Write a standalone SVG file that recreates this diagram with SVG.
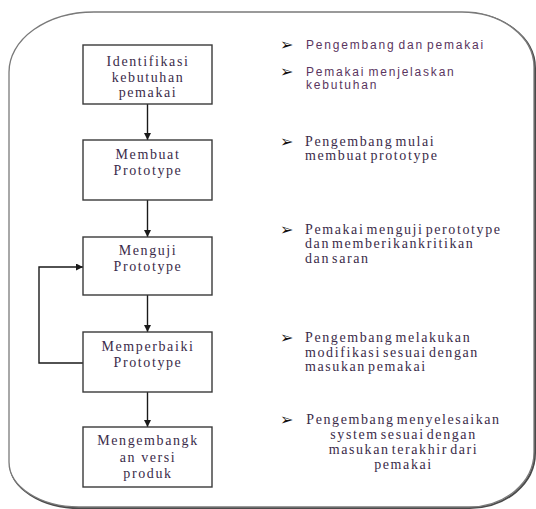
<svg xmlns="http://www.w3.org/2000/svg" width="536" height="509" viewBox="0 0 536 509">
<style>
.box{fill:#fff;stroke:#3a3a3a;stroke-width:1.4}
.bt{font-family:"Liberation Serif","DejaVu Serif",serif;font-size:14px;letter-spacing:1.6px;fill:#3b2c4a;text-anchor:middle}
.st{font-family:"Liberation Serif","DejaVu Serif",serif;font-size:14px;letter-spacing:1.6px;word-spacing:-3px;fill:#3b2c4a}
.ss{font-family:"Liberation Sans","DejaVu Sans",sans-serif;font-size:12px;letter-spacing:1.8px;word-spacing:-2px;fill:#5a3560}
.bul{font-family:"DejaVu Sans",sans-serif;font-size:16px;font-weight:bold;fill:#111}
.con{fill:none;stroke:#1a1a1a;stroke-width:1.4}
</style>
<defs>
<marker id="ah" viewBox="0 0 10 10" refX="10" refY="5" markerWidth="7" markerHeight="7" markerUnits="userSpaceOnUse" orient="auto">
<path d="M0 0 L10 5 L0 10 Z" fill="#1a1a1a"/>
</marker>
</defs>
<g id="frame">
<path d="M94 12 H462 A72 55 0 0 1 534 67 V452 A65 55 0 0 1 469 507 H79 A70 45 0 0 1 9 462 V72 A85 60 0 0 1 94 12 Z" fill="none" stroke="#4a4a4a" stroke-width="2" transform="translate(1 1)"/>
<path d="M94 12 H462 A72 55 0 0 1 534 67 V452 A65 55 0 0 1 469 507 H79 A70 45 0 0 1 9 462 V72 A85 60 0 0 1 94 12 Z" fill="#fff" stroke="#7a7a7a" stroke-width="1.3"/>
</g>
<g id="connectors">
<line class="con" x1="147.5" y1="104" x2="147.5" y2="140" marker-end="url(#ah)"/>
<line class="con" x1="147.5" y1="200" x2="147.5" y2="237" marker-end="url(#ah)"/>
<line class="con" x1="147.5" y1="295" x2="147.5" y2="332" marker-end="url(#ah)"/>
<line class="con" x1="147.5" y1="392" x2="147.5" y2="427" marker-end="url(#ah)"/>
<polyline class="con" points="83,363 39,363 39,267 83,267" marker-end="url(#ah)"/>
</g>
<g id="n1">
<rect class="box" x="83" y="45" width="129" height="59"/>
<text class="bt" x="148" y="66">Identifikasi</text>
<text class="bt" x="148" y="81.5">kebutuhan</text>
<text class="bt" x="148" y="97">pemakai</text>
</g>
<g id="n2">
<rect class="box" x="83" y="140" width="129" height="60"/>
<text class="bt" x="148" y="159">Membuat</text>
<text class="bt" x="148" y="174.5">Prototype</text>
</g>
<g id="n3">
<rect class="box" x="83" y="237" width="129" height="58"/>
<text class="bt" x="148" y="254.5">Menguji</text>
<text class="bt" x="148" y="271">Prototype</text>
</g>
<g id="n4">
<rect class="box" x="83" y="332" width="129" height="60"/>
<text class="bt" x="148" y="351">Memperbaiki</text>
<text class="bt" x="148" y="367">Prototype</text>
</g>
<g id="n5">
<rect class="box" x="83" y="427" width="129" height="60"/>
<text class="bt" x="148" y="445">Mengembangk</text>
<text class="bt" x="148" y="461.5">an versi</text>
<text class="bt" x="148" y="478">produk</text>
</g>
<g id="notes">
<text class="bul" x="280" y="50">➢</text>
<text class="ss" x="306" y="49">Pengembang dan pemakai</text>
<text class="bul" x="280" y="77">➢</text>
<text class="ss" x="306" y="76">Pemakai menjelaskan</text>
<text class="ss" x="306" y="89">kebutuhan</text>
<text class="bul" x="280" y="147">➢</text>
<text class="st" x="305" y="146">Pengembang mulai</text>
<text class="st" x="305" y="160">membuat prototype</text>
<text class="bul" x="280" y="235">➢</text>
<text class="st" x="305" y="234">Pemakai menguji perototype</text>
<text class="st" x="305" y="248">dan memberikankritikan</text>
<text class="st" x="305" y="263">dan saran</text>
<text class="bul" x="280" y="343">➢</text>
<text class="st" x="305" y="342">Pengembang melakukan</text>
<text class="st" x="305" y="357">modifikasi sesuai dengan</text>
<text class="st" x="305" y="371">masukan pemakai</text>
<text class="bul" x="280" y="425">➢</text>
<text class="st" x="403.5" y="424" text-anchor="middle">Pengembang menyelesaikan</text>
<text class="st" x="403.5" y="439" text-anchor="middle">system sesuai dengan</text>
<text class="st" x="403.5" y="454" text-anchor="middle">masukan terakhir dari</text>
<text class="st" x="403.5" y="469" text-anchor="middle">pemakai</text>
</g>
</svg>
